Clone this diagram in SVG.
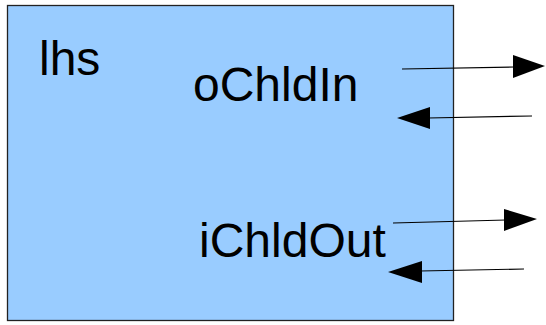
<svg xmlns="http://www.w3.org/2000/svg" width="546" height="325" viewBox="0 0 546 325">
<style>
.lbl{font-family:"Liberation Sans",Arial,sans-serif;font-size:48px;fill:#000}
.conn line{stroke:#000;stroke-width:1.2}
.conn polygon{fill:#000}
</style>
<rect width="546" height="325" fill="#fff"/>
<g id="lhs">
<rect x="7.5" y="5.5" width="446" height="315" fill="#99ccff" stroke="#222" stroke-width="1.3"/>
<text class="lbl" x="39" y="75">lhs</text>
</g>
<g id="oChldIn"><text class="lbl" x="193" y="101">oChldIn</text></g>
<g id="iChldOut"><text class="lbl" x="199" y="257">iChldOut</text></g>
<g class="conn" id="connectors">
<line x1="402" y1="69" x2="514" y2="67"/>
<polygon points="545,66 513,55 513,78"/>
<line x1="532" y1="116" x2="428" y2="118"/>
<polygon points="397,118 430,107 430,129"/>
<line x1="393" y1="223" x2="506" y2="220"/>
<polygon points="537,219 504,209 504,231"/>
<line x1="524" y1="269" x2="420" y2="271"/>
<polygon points="388,272 422,261 422,283"/>
</g>
</svg>
